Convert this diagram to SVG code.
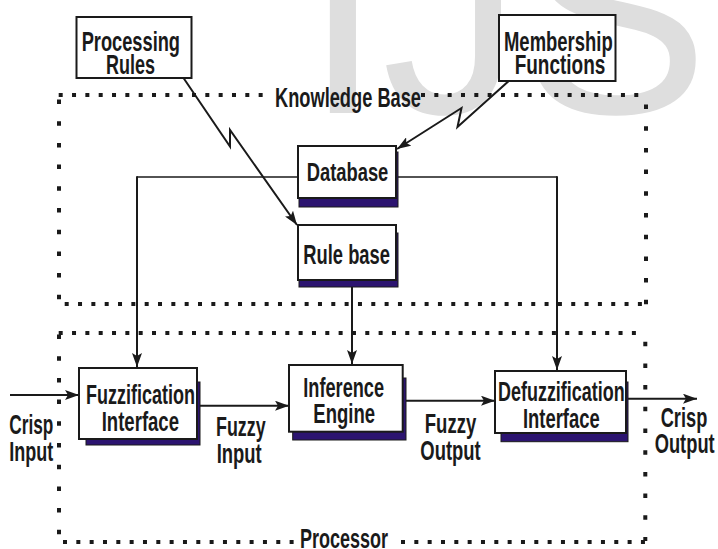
<svg xmlns="http://www.w3.org/2000/svg" width="718" height="549" viewBox="0 0 718 549">
  <style>
    .lbl { font-family: "Liberation Sans", Arial, sans-serif; font-weight: bold; font-size: 28px; fill: #1a1a1a; }
    .sig { font-size: 27px; }
    .box { fill: #ffffff; stroke: #1a1a1a; stroke-width: 2; }
    .shadow { fill: #2c1470; stroke: #1a1a1a; stroke-width: 1; }
    .wire { fill: none; stroke: #1a1a1a; stroke-width: 1.6; }
    .arrow { fill: none; stroke: #1a1a1a; stroke-width: 2; marker-end: url(#head); }
    .dotH { fill: none; stroke: #1a1a1a; stroke-width: 4; stroke-dasharray: 4 9.33; }
    .dotV { fill: none; stroke: #1a1a1a; stroke-width: 4; stroke-dasharray: 4.5 17.2; }
    .mark { font-family: "Liberation Sans", Arial, sans-serif; font-size: 280px; fill: #dedede; }
  </style>
  <defs>
    <marker id="head" viewBox="0 0 14 10" refX="14" refY="5" markerWidth="14" markerHeight="10" markerUnits="userSpaceOnUse" orient="auto">
      <path d="M0,0 L14,5 L0,10 L3,5 z" fill="#1a1a1a"/>
    </marker>
  </defs>

  <rect x="0" y="0" width="718" height="549" fill="#ffffff"/>

  <!-- background watermark -->
  <text class="mark" x="304" y="113">IJS</text>

  <!-- dotted frames -->
  <g id="frames">
    <!-- Knowledge Base frame -->
    <line class="dotH" x1="58.7" y1="95" x2="266" y2="95"/>
    <line class="dotH" x1="421" y1="95" x2="646" y2="95"/>
    <line class="dotV" x1="59" y1="99.5" x2="59" y2="302"/>
    <line class="dotV" x1="646" y1="104.5" x2="646" y2="306"/>
    <line class="dotH" x1="64.7" y1="304" x2="646" y2="304"/>
    <text class="lbl" x="275" y="107" textLength="146" lengthAdjust="spacingAndGlyphs">Knowledge Base</text>
    <!-- Processor frame -->
    <line class="dotH" x1="58.7" y1="333" x2="643" y2="333"/>
    <line class="dotV" x1="59" y1="334.5" x2="59" y2="540"/>
    <line class="dotV" x1="645.3" y1="341.7" x2="645.3" y2="541"/>
    <line class="dotH" x1="63" y1="542" x2="296" y2="542"/>
    <line class="dotH" x1="401" y1="542" x2="646" y2="542"/>
    <text class="lbl" x="300" y="548" textLength="88" lengthAdjust="spacingAndGlyphs">Processor</text>
  </g>

  <!-- connectors -->
  <g id="connectors">
    <!-- Database feeds both interfaces -->
    <line class="wire" x1="298" y1="177" x2="137" y2="177"/>
    <line class="arrow" x1="137" y1="176.2" x2="137" y2="367"/>
    <line class="wire" x1="396" y1="177" x2="557" y2="177"/>
    <line class="arrow" x1="557" y1="176.2" x2="557" y2="370"/>
    <!-- Rule base to inference -->
    <line class="arrow" x1="352" y1="287" x2="352" y2="364"/>
    <!-- Processing Rules to Rule base (lightning link) -->
    <polyline class="arrow" points="183.5,78 230,146.5 230,130 297,225"/>
    <!-- Membership Functions to Database (lightning link) -->
    <polyline class="arrow" points="512,78 457.5,127 461.5,108 397,149"/>
    <!-- signal path -->
    <line class="arrow" x1="10" y1="395" x2="79" y2="395"/>
    <line class="arrow" x1="199" y1="405.7" x2="289" y2="405.7"/>
    <line class="arrow" x1="405" y1="400.7" x2="495" y2="400.7"/>
    <line class="arrow" x1="626" y1="398.7" x2="697" y2="398.7"/>
  </g>

  <g id="processing-rules">
    <rect class="box" x="76.5" y="17" width="115" height="61"/>
    <text class="lbl" x="81.7" y="51" textLength="98.3" lengthAdjust="spacingAndGlyphs">Processing</text>
    <text class="lbl" x="106" y="74" textLength="49" lengthAdjust="spacingAndGlyphs">Rules</text>
  </g>

  <g id="membership-functions">
    <rect class="box" x="499" y="15" width="116.5" height="66"/>
    <text class="lbl" x="504" y="50.7" textLength="108.7" lengthAdjust="spacingAndGlyphs">Membership</text>
    <text class="lbl" x="514.7" y="74" textLength="90.6" lengthAdjust="spacingAndGlyphs">Functions</text>
  </g>

  <g id="database">
    <rect class="shadow" x="299" y="152" width="99" height="55"/>
    <rect class="box" x="298" y="146" width="98" height="52"/>
    <text class="lbl" style="font-size:25px" x="306.7" y="180.7" textLength="81.6" lengthAdjust="spacingAndGlyphs">Database</text>
  </g>

  <g id="rule-base">
    <rect class="shadow" x="299" y="233" width="99" height="54"/>
    <rect class="box" x="298" y="225" width="98" height="55"/>
    <text class="lbl" x="303.3" y="264" textLength="86.7" lengthAdjust="spacingAndGlyphs">Rule base</text>
  </g>

  <g id="fuzzification-interface">
    <rect class="shadow" x="86" y="382" width="114" height="63"/>
    <rect class="box" x="79" y="368" width="118" height="71"/>
    <text class="lbl" x="86" y="404" textLength="109" lengthAdjust="spacingAndGlyphs">Fuzzification</text>
    <text class="lbl" x="101.7" y="430.7" textLength="77.3" lengthAdjust="spacingAndGlyphs">Interface</text>
  </g>

  <g id="inference-engine">
    <rect class="shadow" x="292.7" y="378" width="113.3" height="62"/>
    <rect class="box" x="289" y="365" width="113.7" height="66.7"/>
    <text class="lbl" x="303.3" y="396.7" textLength="80.7" lengthAdjust="spacingAndGlyphs">Inference</text>
    <text class="lbl" x="313.3" y="422.7" textLength="61.7" lengthAdjust="spacingAndGlyphs">Engine</text>
  </g>

  <g id="defuzzification-interface">
    <rect class="shadow" x="501" y="382" width="127" height="59.7"/>
    <rect class="box" x="495" y="371" width="131" height="62"/>
    <text class="lbl" x="498" y="401" textLength="126.7" lengthAdjust="spacingAndGlyphs">Defuzzification</text>
    <text class="lbl" x="523" y="428.3" textLength="76.7" lengthAdjust="spacingAndGlyphs">Interface</text>
  </g>

  <g id="signal-labels">
    <text class="lbl sig" x="9.3" y="434" textLength="44" lengthAdjust="spacingAndGlyphs">Crisp</text>
    <text class="lbl sig" x="9.3" y="460.7" textLength="44" lengthAdjust="spacingAndGlyphs">Input</text>
    <text class="lbl sig" x="216" y="436" textLength="49.7" lengthAdjust="spacingAndGlyphs">Fuzzy</text>
    <text class="lbl sig" x="216.7" y="463" textLength="45" lengthAdjust="spacingAndGlyphs">Input</text>
    <text class="lbl sig" x="424.7" y="433.3" textLength="51.6" lengthAdjust="spacingAndGlyphs">Fuzzy</text>
    <text class="lbl sig" x="420.3" y="460" textLength="60.4" lengthAdjust="spacingAndGlyphs">Output</text>
    <text class="lbl sig" x="660.7" y="427.3" textLength="46.6" lengthAdjust="spacingAndGlyphs">Crisp</text>
    <text class="lbl sig" x="654.7" y="453.3" textLength="60" lengthAdjust="spacingAndGlyphs">Output</text>
  </g>
</svg>
